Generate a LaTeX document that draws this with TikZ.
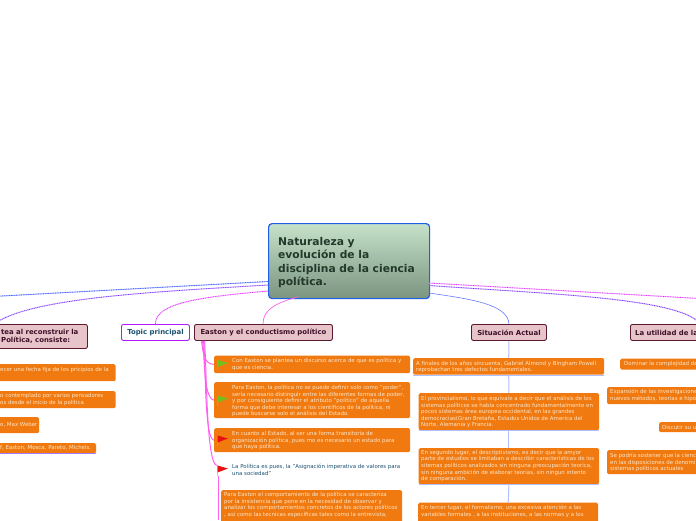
\documentclass[tikz,border=0pt]{standalone}
\usepackage{fontspec}
\setmainfont{DejaVu Sans}
\definecolor{orangeb}{HTML}{F07A10}
\definecolor{orangetxt}{HTML}{FBE6CC}
\definecolor{titlefill}{HTML}{E6C4CA}
\definecolor{titleline}{HTML}{5A1A30}
\definecolor{titletxt}{HTML}{3E1028}
\definecolor{teal}{HTML}{1A5070}
\definecolor{cblue}{HTML}{2040FF}
\definecolor{cpurple}{HTML}{7020FF}
\definecolor{cmag}{HTML}{E020FF}
\definecolor{cpink}{HTML}{FF60F0}
\definecolor{lblue}{HTML}{B0C0FF}
\definecolor{fgreen}{HTML}{70C020}
\definecolor{fred}{HTML}{E81010}
\definecolor{ctop}{HTML}{C6E2CA}
\definecolor{cbot}{HTML}{7A9480}
\definecolor{cborder}{HTML}{1F5FE8}
\definecolor{ctxt}{HTML}{22382A}
\tikzset{
 obox/.style={fill=orangeb,rounded corners=1.5pt,inner sep=0pt,anchor=north west},
 otext/.style={text=orangetxt,font=\fontsize{5.45}{6.55}\selectfont,align=left,inner sep=0pt,anchor=west},
 tealtext/.style={otext,text=teal},
 titlebox/.style={fill=titlefill,draw=titleline,line width=0.9pt,rounded corners=2pt,inner sep=0pt,anchor=north west},
 titletext/.style={text=titletxt,font=\fontsize{6.9}{8.2}\selectfont\bfseries,align=left,inner sep=0pt},
 dotline/.style={line width=0.7pt,densely dotted,preaction={draw=#1!35,solid,line width=1pt},draw=#1},
 pinkline/.style={draw=cpink,line width=1pt},
 sitline/.style={draw=lblue,line width=1pt},
 pole/.style={draw=black!35,line width=0.8pt,opacity=.6},
}
\newcommand{\obx}[5]{\node[obox,minimum width={(#4-#2)*1pt},minimum height={(#5-#3)*1pt}] (#1) at (#2,#3) {};}
\begin{document}
\begin{tikzpicture}[x=1pt,y=-1pt]
\useasboundingbox (0,0) rectangle (696,520);
\clip (0,0) rectangle (696,520);
\fill[white] (0,0) rectangle (696,520);

% centre
\node[anchor=north west,minimum width=161pt,minimum height=75pt,inner sep=0pt,rounded corners=3.5pt,draw=cborder,line width=1.2pt,top color=ctop,bottom color=cbot] (c) at (268,223) {};
\node[anchor=west,inner sep=0pt,align=left,text=ctxt,font=\fontsize{10.7}{13.35}\selectfont\bfseries] (ctext) at (278,262.5) {Naturaleza y\\evolución de la\\disciplina de la ciencia\\política.};

% titles
\node[titlebox,minimum width=187pt,minimum height=24pt] (t1) at (-100,324) {};
\node[titletext,anchor=west] (t1t) at (1,336) {tea al reconstruir la\\Política, consiste:};
\node[anchor=north west,minimum width=68pt,minimum height=16pt,inner sep=0pt,rounded corners=2pt,draw=cmag!80!blue,line width=0.9pt,fill=white,text=teal,font=\fontsize{6.9}{8}\selectfont\bfseries] (t2) at (121,324) {Topic principal};
\node[titlebox,minimum width=138pt,minimum height=16pt,text=titletxt,font=\fontsize{6.9}{8}\selectfont\bfseries] (t3) at (194,324) {Easton y el conductismo político};
\node[titlebox,minimum width=75pt,minimum height=16pt,text=titletxt,font=\fontsize{6.9}{8}\selectfont\bfseries] (t4) at (471,324) {Situación Actual};
\node[titlebox,minimum width=140pt,minimum height=16pt] (t5) at (630,324) {};
\node[titletext,anchor=west] (t5t) at (635,332.5) {La utilidad de la};

% far ends
\coordinate (farl) at (-200,307);
\coordinate (farr) at (900,310);
\coordinate (cl1) at (268,281.5);
\coordinate (cl2) at (268,285);
\coordinate (cl3) at (268,291);
\coordinate (cl4) at (298,297);
\coordinate (cr1) at (429,283);
\coordinate (cr2) at (429,285.5);
\coordinate (cr3) at (429,293);

% connectors from the centre
\draw[dotline=cblue] (cl1) -- (farl);
\draw[dotline=cpurple] (cl2) .. controls (150,292) and (30,298) .. (t1.north);
\draw[dotline=cmag] (cl3) .. controls (200,297) and (155,303) .. (t2.north);
\draw[pinkline,line width=.7pt] (cl4) .. controls (275,303) and (263,310) .. (263,324);
\draw[dotline=cmag] (cr1) -- (farr);
\draw[dotline=cpurple] (cr2) .. controls (550,294) and (680,298) .. (t5.north);
\draw[draw=cblue!70!white,line width=.6pt] (cr3) .. controls (470,299) and (508,304) .. (t4.north);

% left column
\obx{l1}{-20}{364}{115.5}{381}
\node[otext] (l1t) at (0,370) {ecer una fecha fija de los pricipios de la};
\obx{l2}{-20}{391}{115.5}{408}
\node[otext] (l2t) at (0,399.5) {o contemplado por varios pensadores\\os desde el inicio de la política};
\obx{l3}{-20}{417}{39}{433}
\node[otext] (l3t) at (0,425) {o, Max Weber};
\obx{l4}{-20}{443}{96}{453}
\node[otext] (l4t) at (0,448) {f, Easton, Mosca, Pareto, Michels.};
\draw[draw=cpurple!60,line width=.5pt] (l4.south west) -- (l4.south east);

% Easton column
\obx{e1}{214}{355.5}{410}{373}
\node[otext] (e1t) at (232,364.5) {Con Easton se plantea un discurso acerca de que es política y\\que es ciencia.};
\obx{e2}{214}{382}{410}{418}
\node[otext] (e2t) at (232,401) {Para Easton, la política no se puede definir solo como "poder",\\sería necesario distinguir entre las diferentes formas de poder,\\y por consiguiente definir el atributo "político" de aquella\\forma que debe interesar a los científicos de la política, ni\\puede buscarse solo el análisis del Estado.};
\obx{e3}{214}{428}{410}{452}
\node[otext] (e3t) at (232,440.5) {En cuanto al Estado, al ser una forma transitoria de\\organización política, pues mo es necesario un estado para\\que haya política.};
\node[tealtext] (e4t) at (232,470) {La Política es pues, la "Asignación imperativa de valores para\\una sociedad"};
\obx{e5}{221}{490}{402}{530}
\node[otext] (e5t) at (224,505) {Para Easton  el comportamiento de la política se caracteriza\\por la insistencia que pone en la necesidad de observar y\\analizar los comportamientos concretos de los actores políticos\\, así como las tecnicas específicas tales como la entrevista,};

% Easton connectors
\coordinate (f4) at (217.5,465.5);
\draw[pinkline] ([xshift=-62pt]t3.south) .. controls (203,350) and (203,364) .. (e1.west);
\draw[pinkline] ([xshift=-61pt]t3.south) .. controls (205,355) and (203,398) .. (e2.west);
\draw[pinkline] ([xshift=-60pt]t3.south) .. controls (206,360) and (204,440) .. (e3.west);
\draw[pinkline] ([xshift=-59pt]t3.south) .. controls (207,370) and (206,467) .. (f4);
\draw[pinkline] (218.5,476) -- (218.5,520);
\foreach \x/\y/\col in {217.5/360/fgreen,217.5/395.5/fgreen,217.5/435.5/fred,217.5/465.5/fred}{
 \draw[pole] (\x,\y) -- ++(0,10);
 \fill[\col] (\x,\y) -- ++(10.5,3) -- ++(-10.5,4) -- cycle;
}

% Situacion column
\obx{s1}{413}{358}{604}{374.5}
\node[otext] (s1t) at (416,367) {A finales de los años sincuenta, Gabriel Almond y Bingham Powell\\reprobachan tres defectos fundamentales.};
\obx{s2}{418.5}{393}{599}{430}
\node[otext] (s2t) at (421,412) {El provincialismo, lo que equivale a decir  que el análisis de los\\sistemas políticos se había concentrado fundamentalmente en\\pocos sistemas área europea occidental, en las grandes\\democracias(Gran Bretaña, Estados Unidos de America del\\Norte, Alemania y Francia.};
\obx{s3}{418.5}{448}{599}{484}
\node[otext] (s3t) at (421,466) {En segundo lugar,  el descriptivismo, es decir que la amyor\\parte de estudios se limitaban a describir características de los\\sitemas políticos analizados sin ninguna preocupación teorica,\\sin ninguna ambición de elaborar teorías, sin ningun intento\\de comparación.};
\obx{s4}{418}{502.5}{598}{540}
\node[otext] (s4t) at (421,511.5) {En tercer lugar, el formalismo, una excesiva atención a las\\variables formales , a las instituciones, a las normas y a los};
\draw[sitline] (t4.south) -- (s1.north);
\draw[sitline] (s1.south) -- (s2.north);
\draw[sitline] (s2.south) -- (s3.north);
\draw[sitline] (s3.south) -- (s4.north);
\foreach \b in {s1,s2,s3}{\draw[draw=lblue,line width=.6pt] (\b.south west) -- (\b.south east);}

% right column
\obx{r1}{620}{358.5}{720}{369.5}
\node[otext] (r1t) at (624,364) {Dominar la complejidad de};
\obx{r2}{607}{387}{720}{404}
\node[otext] (r2t) at (610,395.5) {Expansión de las investigaciones\\nuevos métodos, teorías e hipó};
\obx{r3}{659}{422}{720}{432}
\node[otext] (r3t) at (662,427) {Discutir  su u};
\obx{r4}{607}{450}{720}{474}
\node[otext] (r4t) at (610,462.5) {Se podría sostener que la cienc\\en las disposiciones de denomi\\sistemas políticos actuales};
\end{tikzpicture}
\end{document}
